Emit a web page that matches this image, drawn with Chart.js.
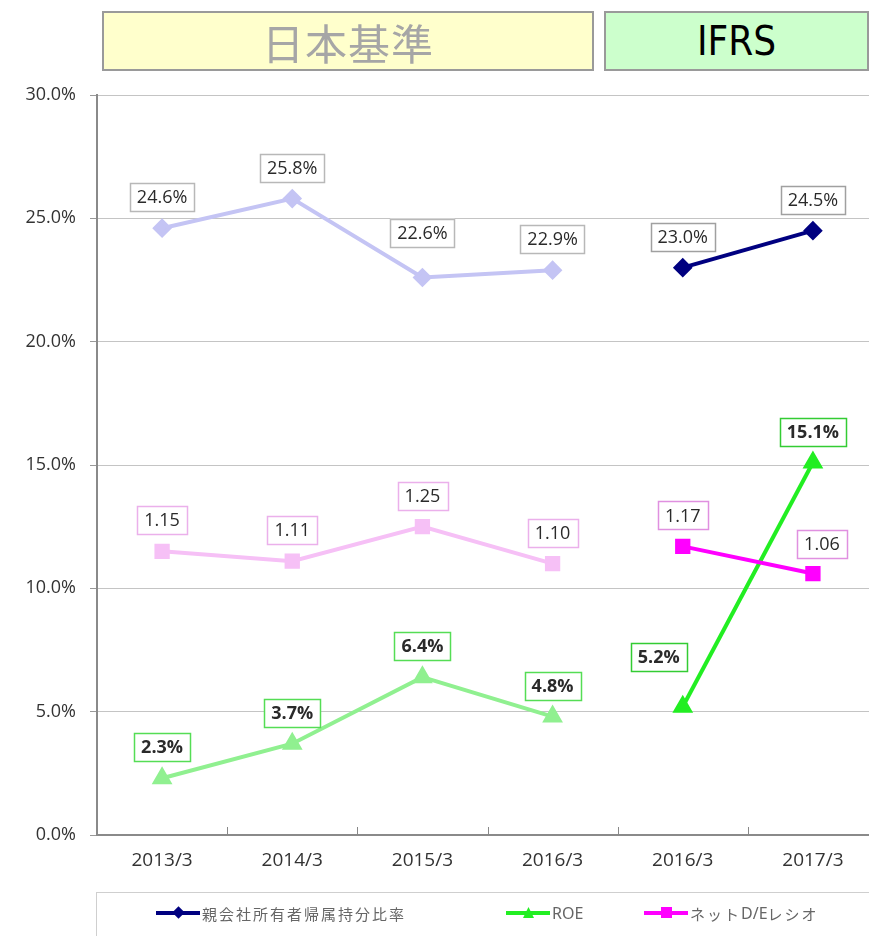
<!DOCTYPE html>
<html><head><meta charset="utf-8">
<script src="https://cdn.jsdelivr.net/npm/chart.js@4/dist/chart.umd.min.js"></script>
<style>
html,body{margin:0;padding:0;background:#fff;overflow:hidden;width:869px;height:936px;}
#wrap{position:absolute;left:0;top:0;width:890px;height:936px;}
.hdr{position:absolute;top:11px;height:60px;border:2px solid #9a9a9a;box-sizing:border-box;display:flex;align-items:center;justify-content:center;}
#jp{left:102px;width:492px;background:#FFFFCC;color:#A6A6A6;font-family:"Noto Sans CJK JP",sans-serif;font-size:42px;font-weight:normal;letter-spacing:1px;}
#ifrs{left:604px;width:265px;background:#CCFFCC;color:#000;font-family:"Liberation Sans Narrow","DejaVu Sans Condensed",sans-serif;font-size:40px;}
#legend{position:absolute;left:96px;top:892px;width:800px;height:80px;border:1px solid #cfcfcf;box-sizing:border-box;font-family:"Noto Sans CJK JP",sans-serif;font-size:15px;color:#666;}
.li{position:absolute;top:9px;height:22px;display:flex;align-items:center;letter-spacing:2px;}
.li b{font-weight:normal;letter-spacing:0;font-family:"Liberation Sans Narrow","Noto Sans",sans-serif;font-size:16px;}
.ln{position:relative;width:44px;height:4px;margin-right:2px;}
.mk{position:absolute;left:17px;top:-4px;width:11px;height:11px;}
</style></head>
<body>
<div id="wrap"><canvas id="c" width="890" height="936"></canvas></div>
<div class="hdr" id="jp">日本基準</div>
<div class="hdr" id="ifrs">IFRS</div>
<div id="legend">
  <div class="li" style="left:59px"><span class="ln" style="background:#000080"><span class="mk" style="background:#000080;transform:scale(0.8) rotate(45deg)"></span></span>親会社所有者帰属持分比率</div>
  <div class="li" style="left:409px"><span class="ln" style="background:#22EE22"><span class="mk" style="background:#22EE22;clip-path:polygon(50% 0,100% 100%,0 100%)"></span></span><b>ROE</b></div>
  <div class="li" style="left:547px"><span class="ln" style="background:#FF00FF"><span class="mk" style="background:#FF00FF"></span></span>ネット<b>D/E</b>レシオ</div>
</div>
<script>
// ---- data ----
const categories = ['2013/3','2014/3','2015/3','2016/3','2016/3','2017/3'];
const ownerEquityRatio = [24.6, 25.8, 22.6, 22.9, 23.0, 24.5];   // %
const roe = [2.3, 3.7, 6.4, 4.8, 5.2, 15.1];                      // %
const netDERatio = [1.15, 1.11, 1.25, 1.10, 1.17, 1.06];          // times (plotted x10 on % axis)
const jgaapCount = 4; // first 4 categories are Japanese GAAP
const yTicks = [0, 5, 10, 15, 20, 25, 30];

// ---- label placement tweaks (pixels) ----
const labelShift = {
  share: {2: [0, -45]},
  de:    {5: [9, -30]},
  roe:   {4: [-24, -50]}
};

function part(arr, jg, scale) {
  return arr.map((v, i) => ((i < jgaapCount) === jg ? v * scale : null));
}

const seriesDefs = [
  {key:'share', raw:ownerEquityRatio, scale:1, fmt:v=>v.toFixed(1)+'%', style:'rectRot', r:7,
   col:'#000080', fade:'#C4C4F4', box:'#A0A0A0', boxFade:'#B8B8B8', bold:false},
  {key:'de', raw:netDERatio, scale:10, fmt:v=>v.toFixed(2), style:'rect', r:8,
   col:'#FF00FF', fade:'#F6C0F6', box:'#E090E0', boxFade:'#EBB0EB', bold:false},
  {key:'roe', raw:roe, scale:1, fmt:v=>v.toFixed(1)+'%', style:'triangle', r:8,
   col:'#22EE22', fade:'#90F090', box:'#33CC33', boxFade:'#55DD55', bold:true},
];

const datasets = [];
[true, false].forEach(jg => {
  seriesDefs.forEach(s => {
    const c = jg ? s.fade : s.col;
    datasets.push({
      label: s.key + (jg ? '-jgaap' : '-ifrs'),
      data: part(s.raw, jg, s.scale),
      rawValues: s.raw.map((v,i)=>((i < jgaapCount) === jg ? v : null)),
      key: s.key, fmt: s.fmt, boxColor: jg ? s.boxFade : s.box, bold: s.bold,
      borderColor: c, backgroundColor: c, pointBackgroundColor: c, pointBorderColor: c,
      borderWidth: 4, pointStyle: s.style, pointRadius: s.r, pointHoverRadius: s.r,
      spanGaps: false, tension: 0
    });
  });
});

const labelPlugin = {
  id: 'boxLabels',
  afterDatasetsDraw(chart) {
    const ctx = chart.ctx;
    chart.data.datasets.forEach((ds, di) => {
      const meta = chart.getDatasetMeta(di);
      meta.data.forEach((pt, i) => {
        const v = ds.rawValues[i];
        if (v == null) return;
        const sh = (labelShift[ds.key] && labelShift[ds.key][i]) || [0, -31];
        const cx = pt.x + sh[0], cy = pt.y + sh[1];
        const txt = ds.fmt(v);
        ctx.save();
        ctx.font = (ds.bold ? 'bold ' : '') + '18px "Open Sans", sans-serif';
        const w = ctx.measureText(txt).width + 14, h = 28;
        ctx.fillStyle = '#fff';
        ctx.fillRect(cx - w/2, cy - h/2, w, h);
        ctx.strokeStyle = ds.boxColor; ctx.lineWidth = 1.5;
        ctx.strokeRect(Math.round(cx - w/2)+0.5, Math.round(cy - h/2)+0.5, Math.round(w), h);
        ctx.fillStyle = '#2a2a2a';
        ctx.textAlign = 'center'; ctx.textBaseline = 'middle';
        ctx.fillText(txt, cx, cy + 1);
        ctx.restore();
      });
    });
  }
};

const tickPlugin = {
  id: 'innerTicks',
  afterDraw(chart) {
    const a = chart.chartArea, ctx = chart.ctx, n = categories.length;
    ctx.save();
    ctx.strokeStyle = '#888'; ctx.lineWidth = 1;
    for (let k = 1; k < n; k++) {
      const x = Math.round(a.left + k * (a.right - a.left) / n) + 0.5;
      ctx.beginPath(); ctx.moveTo(x, a.bottom); ctx.lineTo(x, a.bottom - 8); ctx.stroke();
    }
    ctx.restore();
  }
};

new Chart(document.getElementById('c'), {
  type: 'line',
  data: { labels: categories, datasets },
  options: {
    responsive: false, animation: false,
    layout: { padding: { top: 95, right: 5, bottom: 0, left: 0 } },
    plugins: { legend: { display: false }, tooltip: { enabled: false } },
    scales: {
      x: {
        offset: true,
        grid: { display: false },
        border: { display: true, color: '#8a8a8a', width: 2 },
        ticks: { color: '#333', font: { family: '"Open Sans", sans-serif', size: 19 }, padding: 6, maxRotation: 0 },
        afterFit(s) { s.height = 101; }
      },
      y: {
        min: 0, max: 30,
        afterBuildTicks(s) { s.ticks = yTicks.map(v => ({ value: v })); },
        grid: { color: '#c4c4c4', lineWidth: 1, tickLength: 7, tickColor: '#999' },
        border: { display: true, color: '#8a8a8a', width: 2 },
        ticks: { color: '#333', font: { family: '"Open Sans", sans-serif', size: 18 }, padding: 14,
                 callback: v => v.toFixed(1) + '%' },
        afterFit(s) { s.width = 97; }
      }
    }
  },
  plugins: [labelPlugin, tickPlugin]
});
</script>
</body></html>
